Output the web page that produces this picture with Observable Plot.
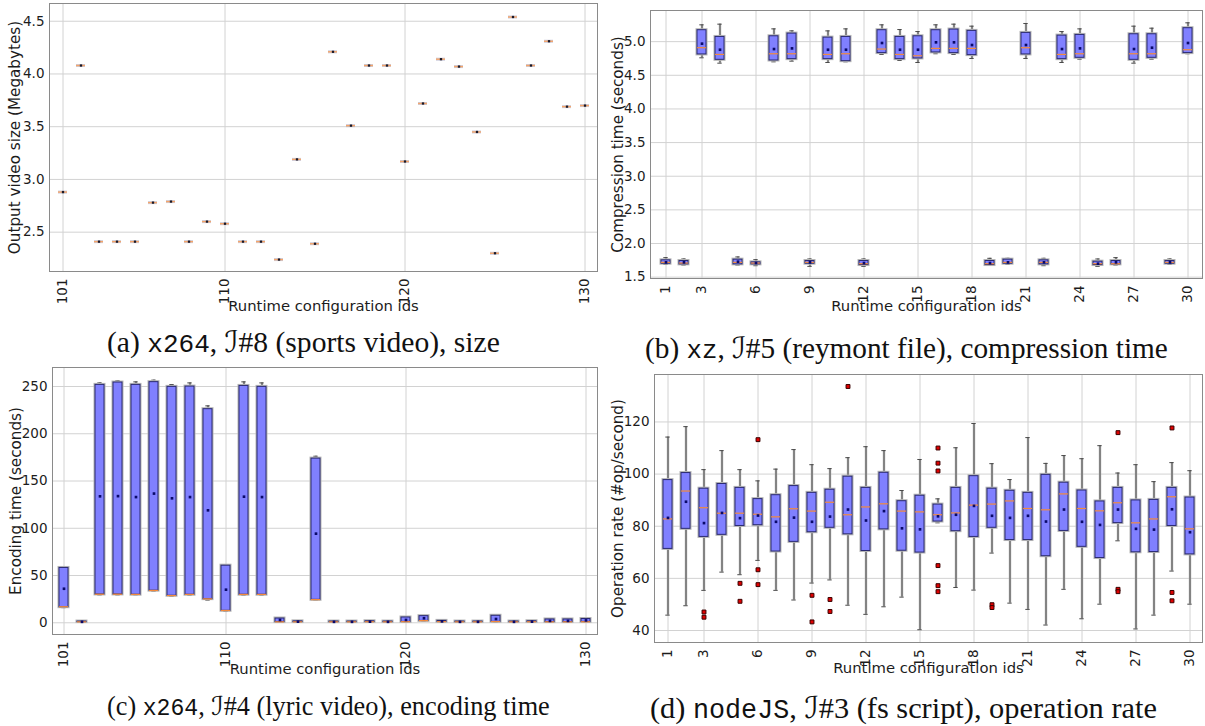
<!DOCTYPE html>
<html><head><meta charset="utf-8">
<script src="https://cdn.jsdelivr.net/npm/d3@7"></script>
<script src="https://cdn.jsdelivr.net/npm/@observablehq/plot@0.6"></script>
<style>
body{margin:0;background:#fff;}
#root{position:relative;width:1205px;height:726px;overflow:hidden;background:#fff;}
.panel{position:absolute;}
.cap{position:absolute;font-family:"Liberation Serif","DejaVu Serif",serif;font-size:24px;color:#111;white-space:nowrap;line-height:1;}
.cap .tt{font-family:"Liberation Mono","DejaVu Sans Mono",monospace;font-size:0.88em;}
.cap .cal{font-family:"DejaVu Serif","DejaVu Sans",serif;font-style:italic;}
</style></head><body><div id="root"></div>
<script>
// ---------- (a) x264, I#8, output size ----------
const sizeIds = d3.range(101, 131);
const sizeMedian = [2.88,4.08,2.41,2.41,2.41,2.78,2.79,2.41,2.60,2.58,2.41,2.41,2.24,3.19,2.39,4.21,3.51,4.08,4.08,3.17,3.72,4.14,4.07,3.45,2.30,4.54,4.08,4.31,3.69,3.70];
const sizeYTicks = [2.5, 3.0, 3.5, 4.0, 4.5];

// ---------- (b) xz, I#5, compression time ----------
const xzIds = d3.range(1, 31);
const xzLo   = [1.69,1.68,4.76,4.68,1.68,1.67,4.70,4.71,1.66,4.69,4.70,1.66,4.81,4.72,4.69,4.82,4.81,4.75,1.68,1.69,4.75,1.67,4.69,4.74,1.66,1.68,4.68,4.74,1.69,4.82];
const xzQ1   = [1.70,1.69,4.81,4.73,1.69,1.69,4.72,4.74,1.70,4.74,4.71,1.68,4.83,4.74,4.75,4.84,4.83,4.80,1.68,1.70,4.81,1.69,4.74,4.76,1.68,1.69,4.73,4.76,1.70,4.83];
const xzMed  = [1.72,1.71,4.91,4.81,1.72,1.71,4.82,4.82,1.72,4.81,4.82,1.70,4.89,4.81,4.79,4.90,4.90,4.90,1.70,1.72,4.91,1.72,4.81,4.82,1.70,1.70,4.82,4.82,1.72,4.88];
const xzQ3   = [1.75,1.74,5.17,5.07,1.76,1.72,5.08,5.12,1.74,5.06,5.07,1.74,5.17,5.07,5.08,5.17,5.18,5.16,1.74,1.76,5.13,1.75,5.09,5.10,1.73,1.74,5.11,5.11,1.74,5.20];
const xzHi   = [1.79,1.77,5.25,5.26,1.80,1.76,5.19,5.16,1.77,5.16,5.19,1.77,5.25,5.18,5.15,5.25,5.26,5.23,1.78,1.78,5.27,1.78,5.15,5.19,1.77,1.79,5.23,5.20,1.77,5.28];
const xzMean = [1.72,1.72,4.97,4.88,1.73,1.71,4.89,4.90,1.72,4.88,4.88,1.71,4.98,4.88,4.88,4.99,4.99,4.95,1.71,1.72,4.95,1.72,4.89,4.90,1.70,1.72,4.89,4.91,1.72,4.98];
const xzYTicks = [1.5, 2.0, 2.5, 3.0, 3.5, 4.0, 4.5, 5.0];

// ---------- (c) x264, I#4, encoding time ----------
const encIds = d3.range(101, 131);
const encLo   = [16,0.5,29.5,29.5,29.5,33.5,28,29.2,24,12.2,29.2,29.2,0.5,0.5,24,0.5,0.5,0.6,0.5,0.6,1.5,0.8,0.5,0.5,0.8,0.5,0.6,0.6,0.6,0.6];
const encQ1   = [16.5,0.8,30,30,29.7,34,28.6,29.7,25,12.7,29.7,29.7,0.8,0.8,24.3,0.8,0.8,0.9,0.8,0.9,2,1,0.8,0.8,1,0.8,0.9,0.8,0.8,0.9];
const encMed  = [17,1,30.2,30.2,30,34.2,28.8,30,25.3,13,30,30,1,1,24.5,1,1,1.1,1,1.2,2.3,1.2,1,1,1.3,1,1.1,1,1,1.1];
const encQ3   = [58,1.3,251.7,254.2,251.7,254.6,249.6,249.9,226,60.4,250.6,249.6,4.5,1.5,173.7,1.3,1.3,1.6,1.3,5.6,7,2,1.3,1.3,7.4,1.3,1.6,3.5,3.5,4];
const encHi   = [58.5,1.6,253.8,256,254.9,256.7,252.1,253.8,229.5,61.5,254.9,253.8,5,1.8,176.2,1.6,1.6,1.9,1.6,6,7.5,3,1.6,1.6,7.8,1.6,1.9,4,4,4.9];
const encMean = [36,1,133.8,134,133,136.7,131.7,133,119,35,133.4,133,3,1.2,94.3,1,1,1.2,1,3,4.8,1.5,1,1,4,1,1.2,2,2,2.5];
const encYTicks = [0, 50, 100, 150, 200, 250];

// ---------- (d) nodeJS, I#3, operation rate ----------
const opIds = d3.range(1, 31);
const opLo   = [45.9,49.5,55.4,62.4,61.4,66.9,55.4,51.7,58.2,59.4,49.7,46.2,49.1,52.8,40.3,81.3,56.5,55.5,69.7,50.5,48.1,42.1,55.8,44.5,50.1,74.4,40.6,45.9,62.8,50.1];
const opQ1   = [71.3,79.0,75.9,76.7,80.1,80.4,70.3,74.0,77.7,79.4,76.9,70.5,78.8,70.6,69.9,81.8,78.1,75.9,79.4,74.7,74.7,68.5,78.2,72.1,67.8,81.2,70.0,70.1,80.1,69.2];
const opMed  = [82.8,93.5,87.1,85.0,85.0,84.6,83.6,86.7,85.8,89.2,84.4,87.4,88.6,85.8,85.5,84.4,85.1,88.1,88.5,89.7,86.8,86.3,92.4,86.8,85.9,89.0,81.3,82.8,91.3,79.0];
const opQ3   = [97.7,100.4,94.4,96.2,94.7,90.4,91.9,95.4,92.8,94.0,99.0,94.7,100.5,89.6,91.7,88.3,94.7,99.2,94.4,93.6,92.8,99.7,96.7,93.7,89.5,94.7,89.9,90.1,94.7,91.0];
const opHi   = [114.2,118.2,101.7,109.0,101.7,97.4,101.9,109.4,103.6,102.1,106.3,110.5,109.0,93.7,105.6,90.5,110.1,119.4,104.0,97.9,114.0,104.1,107.1,105.9,110.9,100.4,103.6,97.1,104.4,101.3];
const opMean = [83.2,89.4,81.2,85.1,83.1,84.1,81.7,83.3,81.7,83.7,86.4,82.2,85.8,79.2,78.8,83.8,84.4,87.8,84.0,83.2,84.0,81.8,86.4,81.7,80.5,86.4,79.0,78.7,86.5,77.7];
const opOutIds  = [3,3,5,5,6,6,6,9,9,10,10,11,16,16,16,16,16,16,19,19,26,26,26,29,29,29];
const opOutVals = [47.1,45.1,58.1,51.2,113.2,63.3,57.6,53.5,43.3,51.9,47.3,133.6,110.0,104.2,101.2,64.9,57.2,54.9,49.9,48.8,115.9,55.8,54.9,117.7,54.6,51.4];
const opYTicks = [40, 60, 80, 100, 120];

const tick101 = [101, 110, 120, 130];
const tick1 = [1, 3, 6, 9, 12, 15, 18, 21, 24, 27, 30];
const xLabel = "Runtime configuration ids";

const FONT = "DejaVu Sans";
const GRID = "#d2d2d2";

function basePlot(cfg, dataMarks) {
  return Plot.plot({
    width: cfg.width, height: cfg.height,
    marginTop: cfg.m[0], marginRight: cfg.m[1], marginBottom: cfg.m[2], marginLeft: cfg.m[3],
    style: {fontFamily: FONT, fontSize: "13.5px", color: "#1c1c1c", background: "#fff", overflow: "visible"},
    x: {type: "band", domain: cfg.ids, paddingInner: 0.5, paddingOuter: 0.25},
    y: {domain: cfg.yDomain},
    marks: [
      Plot.gridX({ticks: cfg.xTicks, stroke: GRID, strokeOpacity: 1}),
      Plot.gridY({ticks: cfg.yTicks, stroke: GRID, strokeOpacity: 1}),
      ...dataMarks,
      Plot.frame({stroke: "#8a8a8a"}),
      Plot.axisX({ticks: cfg.xTicks, tickRotate: -90, tickSize: 0, tickPadding: 7, fontSize: 13.5, label: null}),
      Plot.axisY({ticks: cfg.yTicks, tickFormat: cfg.yFmt, tickSize: 0, tickPadding: 5, fontSize: 13.5, label: null}),
      Plot.text([xLabel], {text: d => d, frameAnchor: "bottom", lineAnchor: "middle", textAnchor: "middle", dy: cfg.xLabelDy, fontSize: 14.8}),
      Plot.text([cfg.yLabel], {text: d => d, frameAnchor: "left", lineAnchor: "middle", textAnchor: "middle", rotate: -90, dx: cfg.yLabelDx, fontSize: 15.2})
    ]
  });
}

function boxMarks(cfg) {
  const rows = cfg.ids.map((id, i) => ({id, lo: cfg.lo[i], q1: cfg.q1[i], med: cfg.med[i], q3: cfg.q3[i], hi: cfg.hi[i], mean: cfg.mean[i]}));
  const outs = (cfg.outIds || []).map((id, i) => ({id, v: cfg.outVals[i]}));
  return [
    Plot.ruleX(rows, {x: "id", y1: "lo", y2: "q1", stroke: "#bdbdbd", strokeWidth: 2.5}),
    Plot.ruleX(rows, {x: "id", y1: "q3", y2: "hi", stroke: "#bdbdbd", strokeWidth: 2.5}),
    Plot.ruleX(rows, {x: "id", y1: "lo", y2: "q1", stroke: "#4a4a4a", strokeWidth: 1}),
    Plot.ruleX(rows, {x: "id", y1: "q3", y2: "hi", stroke: "#4a4a4a", strokeWidth: 1}),
    Plot.tickY(rows, {x: "id", y: "lo", stroke: "#4a4a4a", insetLeft: 2.3, insetRight: 2.3}),
    Plot.tickY(rows, {x: "id", y: "hi", stroke: "#4a4a4a", insetLeft: 2.3, insetRight: 2.3}),
    Plot.barY(rows, {x: "id", y1: "q1", y2: "q3", fill: "none", stroke: "#b5b5b5", strokeWidth: 3}),
    Plot.barY(rows, {x: "id", y1: "q1", y2: "q3", fill: "#8080ff", stroke: "#2a2a72", strokeWidth: 1}),
    Plot.tickY(rows, {x: "id", y: "med", stroke: "#f28a3c", strokeWidth: 1.2}),
    Plot.dot(rows, {x: "id", y: "mean", symbol: "square", r: 1.5, fill: "#0a0a6a", stroke: "none"}),
    Plot.dot(outs, {x: "id", y: "v", symbol: "square", r: 2.2, fill: "#e00000", stroke: "#3a0000", strokeWidth: 1})
  ];
}

function place(node, left, top) {
  const div = document.createElement("div");
  div.className = "panel";
  div.style.left = left + "px";
  div.style.top = top + "px";
  div.appendChild(node);
  document.getElementById("root").appendChild(div);
}

// (a)
const cfgA = {ids: sizeIds, width: 600, height: 320, m: [3, 3, 49, 49], yDomain: [2.127, 4.668],
  yTicks: sizeYTicks, yFmt: d3.format(".1f"), xTicks: tick101,
  yLabel: "Output video size (Megabytes)", xLabelDy: 35, yLabelDx: -34};
const rowsA = sizeIds.map((id, i) => ({id, med: sizeMedian[i]}));
place(basePlot(cfgA, [
  Plot.tickY(rowsA, {x: "id", y: "med", stroke: "#9a9ab8", strokeWidth: 3, strokeOpacity: 0.5}),
  Plot.tickY(rowsA, {x: "id", y: "med", stroke: "#f5a56a", strokeWidth: 1.4}),
  Plot.dot(rowsA, {x: "id", y: "med", symbol: "square", r: 1.3, fill: "#1a1a2a", stroke: "none"})
]), 0, 0);

// (b)
const cfgB = {ids: xzIds, lo: xzLo, q1: xzQ1, med: xzMed, q3: xzQ3, hi: xzHi, mean: xzMean,
  width: 603, height: 320, m: [10, 3, 42, 48], yDomain: [1.48, 5.463],
  yTicks: xzYTicks, yFmt: d3.format(".1f"), xTicks: tick1,
  yLabel: "Compression time (seconds)", xLabelDy: 28, yLabelDx: -32.5};
place(basePlot(cfgB, boxMarks(cfgB)), 602, 0);

// (c)
const cfgC = {ids: encIds, lo: encLo, q1: encQ1, med: encMed, q3: encQ3, hi: encHi, mean: encMean,
  width: 600, height: 320, m: [7, 3, 46, 52], yDomain: [-12.4, 270.1],
  yTicks: encYTicks, yFmt: d3.format("d"), xTicks: tick101,
  yLabel: "Encoding time (seconds)", xLabelDy: 35, yLabelDx: -36.5};
place(basePlot(cfgC, boxMarks(cfgC)), 0, 360);

// (d)
const cfgD = {ids: opIds, lo: opLo, q1: opQ1, med: opMed, q3: opQ3, hi: opHi, mean: opMean,
  outIds: opOutIds, outVals: opOutVals,
  width: 603, height: 320, m: [14, 3, 38, 52], yDomain: [35.4, 138.2],
  yTicks: opYTicks, yFmt: d3.format("d"), xTicks: tick1,
  yLabel: "Operation rate (#op/second)", xLabelDy: 26, yLabelDx: -36};
place(basePlot(cfgD, boxMarks(cfgD)), 602, 360);

// captions
const captions = [
  {html: '(a) <span class="tt">x264</span>, <span class="cal">ℐ</span>#8 (sports video), size', left: 107, width: 393, cy: 343},
  {html: '(b) <span class="tt">xz</span>, <span class="cal">ℐ</span>#5 (reymont file), compression time', left: 645, width: 523, cy: 349},
  {html: '(c) <span class="tt">x264</span>, <span class="cal">ℐ</span>#4 (lyric video), encoding time', left: 107, width: 443, cy: 707},
  {html: '(d) <span class="tt">nodeJS</span>, <span class="cal">ℐ</span>#3 (fs script), operation rate', left: 650, width: 507, cy: 709}
];
for (const c of captions) {
  const d = document.createElement("div");
  d.className = "cap";
  d.innerHTML = c.html;
  d.style.left = c.left + "px";
  d.style.top = "0px";
  document.getElementById("root").appendChild(d);
  const w = d.getBoundingClientRect().width;
  const fs = 24 * c.width / w;
  d.style.fontSize = fs + "px";
  const h = d.getBoundingClientRect().height;
  d.style.top = (c.cy - h / 2) + "px";
}
</script>
</body></html>
